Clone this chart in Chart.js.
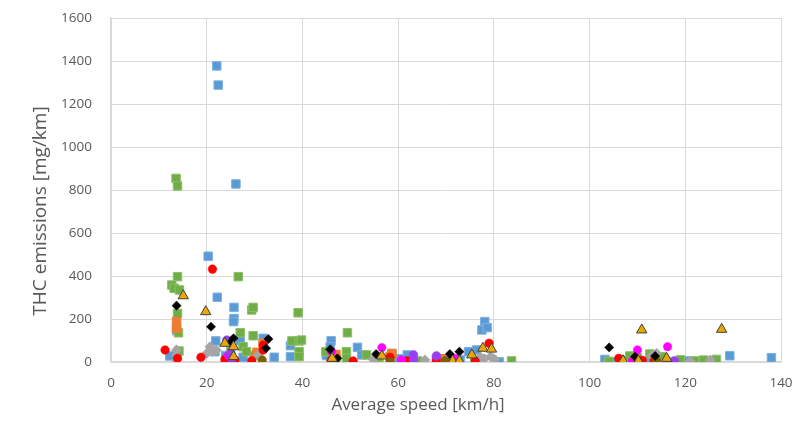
<!DOCTYPE html>
<html>
<head>
<meta charset="utf-8">
<script src="https://cdn.jsdelivr.net/npm/chart.js@4"></script>
<style>
  html, body { margin: 0; padding: 0; background: #fff; }
  #wrap { width: 798px; height: 421px; }
</style>
</head>
<body>
<div id="wrap"><canvas id="c" width="798" height="421"></canvas></div>
<script>
// ---- data (x: average speed km/h, y: THC mg/km) ----
const xTicks = [0, 20, 40, 60, 80, 100, 120, 140];
const yTicks = [0, 200, 400, 600, 800, 1000, 1200, 1400, 1600];
const xTitle = 'Average speed [km/h]';
const yTitle = 'THC emissions [mg/km]';

const blueSquares = [[22.1,1377],[22.4,1288],[26.1,828],[20.3,492],[22.2,301],[25.7,254],[25.7,202],[25.6,188],[13.7,146],[21.9,98],[27,99],[12.3,28],[21.7,48],[27.6,22],[31.8,110],[34.1,22],[37.5,76],[37.5,25],[46,99],[45.8,71],[51.5,68],[52.4,33],[58.7,37],[61.9,33],[78.1,188],[77.5,149],[78.6,160],[74.7,48],[81.1,1],[76.4,56],[103.2,12],[105.3,1],[112.5,5],[120.4,5],[129.3,29],[138,20],[24,30],[45,30],[60,15],[68,5],[73,10],[108,8],[116,3]];
const greenSquares = [[13.6,854],[13.9,819],[13.9,397],[12.7,358],[13.2,343],[14.3,335],[13.9,226],[14.1,136],[14.2,51],[26.6,397],[29.4,242],[29.7,254],[39.1,229],[27,136],[29.7,122],[37.8,98],[39.3,98],[39.3,48],[39.3,25],[27.6,71],[28.3,48],[49.4,136],[44.9,48],[49.2,48],[49.2,17],[39.8,102],[83.7,5],[53.4,33],[68.7,9],[108.4,28],[112.6,37],[115,25],[123.8,9],[126.5,12],[25,50],[30,30],[47,10],[56,20],[64,5],[76,5],[104,3],[110,20],[119,10],[122,5]];
const redCircles = [[21.2,432],[11.3,56],[13.9,17],[18.8,22],[23.8,12],[25.9,9],[29.4,6],[31.8,56],[31.8,79],[50.6,5],[58.3,22],[61.8,6],[76.1,5],[79,87],[106.1,17],[109.1,5],[111,8],[46,8],[68,8],[113.5,6]];
const orangeSquares = [[13.7,188],[13.7,157],[31.8,87],[58.3,25],[58.7,40],[30.5,45],[47,35],[69,15]];
const blackDiamonds = [[13.7,262],[20.9,164],[25.6,110],[32.9,107],[32.4,64],[45.8,59],[47.3,17],[55.4,37],[70.8,37],[72.8,48],[104.1,68],[109.5,25],[113.7,28],[25,90]];
const goldTriangles = [[15.1,308],[19.8,234],[23.8,87],[25.6,71],[25.6,25],[46.2,17],[56.6,28],[71.4,5],[72.8,5],[75.4,33],[77.7,64],[79.5,60],[110.9,149],[127.6,152],[107,6],[110.2,5],[116.1,17]];
const greyDiamonds = [[13.7,56],[13.7,30],[13.7,9],[20.7,71],[20,40],[21.2,50],[22,55],[30.8,33],[54.8,12],[65.6,9],[79.3,25],[78,15],[80.2,12],[77.2,22],[114,40],[113,30],[125.2,9],[121,3]];
const magentaCircles = [[46.1,48],[56.6,67],[60.7,9],[71.9,17],[110,56],[116.3,71],[24.5,30],[109,5]];
const purpleCircles = [[24.2,102],[25.2,17],[63.2,33],[63.2,9],[68,28],[70,5],[117.7,5],[25,40]];
const brownCircles = [[31.6,9],[58.3,1],[69.8,6],[114,5]];

const toPts = arr => arr.map(p => ({x: p[0], y: p[1]}));
const mk = (label, arr, style, radius, bg, border, bw) => ({
  label, data: toPts(arr), pointStyle: style, pointRadius: radius,
  backgroundColor: bg, borderColor: border, borderWidth: bw, showLine: false
});

// first dataset is drawn on top
const datasets = [
  mk('Gold triangles', goldTriangles, 'triangle', 6, '#EBA700', '#404040', 1),
  mk('Black', blackDiamonds, 'rectRot', 4.6, '#000000', '#000000', 0.5),
  mk('Brown', brownCircles, 'circle', 4.2, '#7F6000', '#7F6000', 0.5),
  mk('Purple', purpleCircles, 'circle', 4.4, '#9B3DF5', '#9B3DF5', 0.5),
  mk('Magenta', magentaCircles, 'circle', 4.2, '#FF00FF', '#FF00FF', 0.5),
  mk('Red', redCircles, 'circle', 4.3, '#FF0000', '#FF0000', 0.5),
  mk('Grey', greyDiamonds, 'rectRot', 5.2, '#A5A5A5', '#A5A5A5', 0.5),
  mk('Orange', orangeSquares, 'rect', 6, '#ED7D31', '#ED7D31', 1),
  mk('Green', greenSquares, 'rect', 6, '#70AD47', '#8CC068', 1),
  mk('Blue', blueSquares, 'rect', 6, '#5B9BD5', '#7DB1E0', 1)
];

const FONT = "'Open Sans', 'DejaVu Sans', sans-serif";
const TXT = '#595959';

// axis titles placed where the reference has them (not centred on the plot)
const axisTitles = {
  id: 'axisTitles',
  afterDraw(chart) {
    const ctx = chart.ctx;
    ctx.save();
    ctx.fillStyle = TXT;
    ctx.textAlign = 'center';
    ctx.textBaseline = 'middle';
    ctx.font = "17px " + FONT;
    ctx.fillText(xTitle, 418, 405);
    ctx.translate(41, 211);
    ctx.rotate(-Math.PI / 2);
    ctx.font = "19px " + FONT;
    ctx.fillText(yTitle, 0, 0);
    ctx.restore();
  }
};

new Chart(document.getElementById('c'), {
  type: 'scatter',
  data: { datasets },
  plugins: [axisTitles],
  options: {
    responsive: false,
    animation: false,
    events: [],
    layout: { padding: { top: 18, right: 17, bottom: 0, left: 0 } },
    plugins: { legend: { display: false }, tooltip: { enabled: false } },
    scales: {
      x: {
        type: 'linear', min: 0, max: 140,
        afterBuildTicks: s => { s.ticks = xTicks.map(v => ({value: v})); },
        afterFit: s => { s.height = 59; s.paddingLeft = 0; s.paddingRight = 0; },
        ticks: { color: TXT, font: { family: FONT, size: 13.5 }, padding: 13, maxRotation: 0,
                 callback: v => String(v) },
        grid: { color: '#D9D9D9', drawTicks: false },
        border: { color: '#D9D9D9', width: 1.5 },
        title: { display: false, text: xTitle }
      },
      y: {
        type: 'linear', min: 0, max: 1600,
        afterBuildTicks: s => { s.ticks = yTicks.map(v => ({value: v})); },
        afterFit: s => { s.width = 111; s.paddingTop = 0; s.paddingBottom = 0; },
        ticks: { color: TXT, font: { family: FONT, size: 13.5 }, padding: 19,
                 callback: v => String(v) },
        grid: { color: '#D9D9D9', drawTicks: false },
        border: { color: '#D9D9D9', width: 1.5 },
        title: { display: false, text: yTitle }
      }
    }
  }
});
</script>
</body>
</html>
